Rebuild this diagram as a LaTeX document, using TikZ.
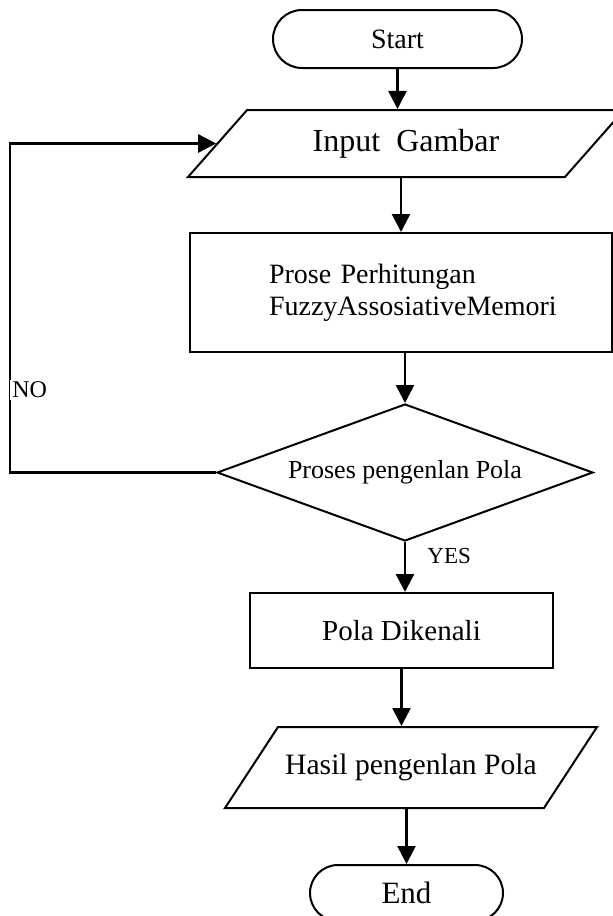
\documentclass[tikz,border=0pt]{standalone}
\usepackage{fontspec}
\setmainfont{Liberation Serif}
\usetikzlibrary{arrows.meta,positioning,shapes.geometric,shapes.misc}

\begin{document}
\begin{tikzpicture}[x=0.5pt,y=-0.5pt,
    term/.style={rounded rectangle,draw,line width=1pt,inner sep=0pt},
    io/.style={trapezium,trapezium stretches body,draw,line width=1pt,inner xsep=0pt},
    proc/.style={rectangle,draw,line width=1pt,inner sep=0pt},
    decision/.style={diamond,draw,line width=1pt,inner sep=0pt,aspect=2.74},
    arr/.style={-{Triangle[length=9pt,width=9pt]},line width=1.3pt},
    lbl/.style={inner sep=1pt}
  ]
    \useasboundingbox (0,0) rectangle (613,916);
    \clip (0,0) rectangle (613,916);
    \node[term,minimum width=124.5pt,minimum height=29pt,
      font=\fontsize{14}{16}\selectfont] (start) at (397.5,39) {Start};
    \node[io,trapezium left angle=48.6,trapezium right angle=131.4,
      minimum width=218pt,text height=11.5pt,text depth=3.5pt,inner ysep=9.25pt,
      font=\fontsize{16}{18}\selectfont] (input) at (406,143.5) {Input\ \ Gambar};
    \node[proc,minimum width=211pt,minimum height=59.5pt,text width=211pt,
      align=left,font=\fontsize{14}{16}\selectfont] (prose) at (401,292.5)
      {\hspace*{39.5pt}Prose Perhitungan\\\hspace*{39.5pt}FuzzyAssosiativeMemori};
    \node[decision,minimum width=188pt,minimum height=68.5pt,
      font=\fontsize{13}{15}\selectfont] (dec) at (405,472.5) {Proses pengenlan Pola};
    \node[proc,minimum width=151.5pt,minimum height=37.5pt,
      font=\fontsize{14.5}{16}\selectfont] (pola) at (401.5,630.5) {Pola Dikenali};
    \node[io,trapezium left angle=56.8,trapezium right angle=123.2,
      minimum width=186pt,text height=10.5pt,text depth=3.3pt,inner ysep=13.35pt,
      font=\fontsize{14.8}{17}\selectfont] (hasil) at (411,767.5) {Hasil pengenlan Pola};
    \node[term,minimum width=96.5pt,minimum height=28pt,
      font=\fontsize{15.5}{17}\selectfont] (end) at (406.5,893) {End};

    \draw[arr] (start.south) -- (start.south |- input.north);
    \draw[arr] (prose.north |- input.south) -- (prose.north);
    \draw[arr] (dec.north |- prose.south) -- (dec.north);
    \draw[arr] (dec.south) -- (dec.south |- pola.north);
    \draw[arr] (pola.south) -- (pola.south |- hasil.north);
    \draw[arr] (end.north |- hasil.south) -- (end.north);
    % NO: back to input
    \draw[arr] (dec.west) -- ++(-206,0) |- (input.west);

    \node[lbl,fill=white,anchor=west,font=\fontsize{12}{14}\selectfont] (no) at (10,390) {NO};
    \node[lbl,anchor=west,font=\fontsize{11.5}{13}\selectfont] (yes) at (425,556) {YES};
  \end{tikzpicture}
\end{document}
